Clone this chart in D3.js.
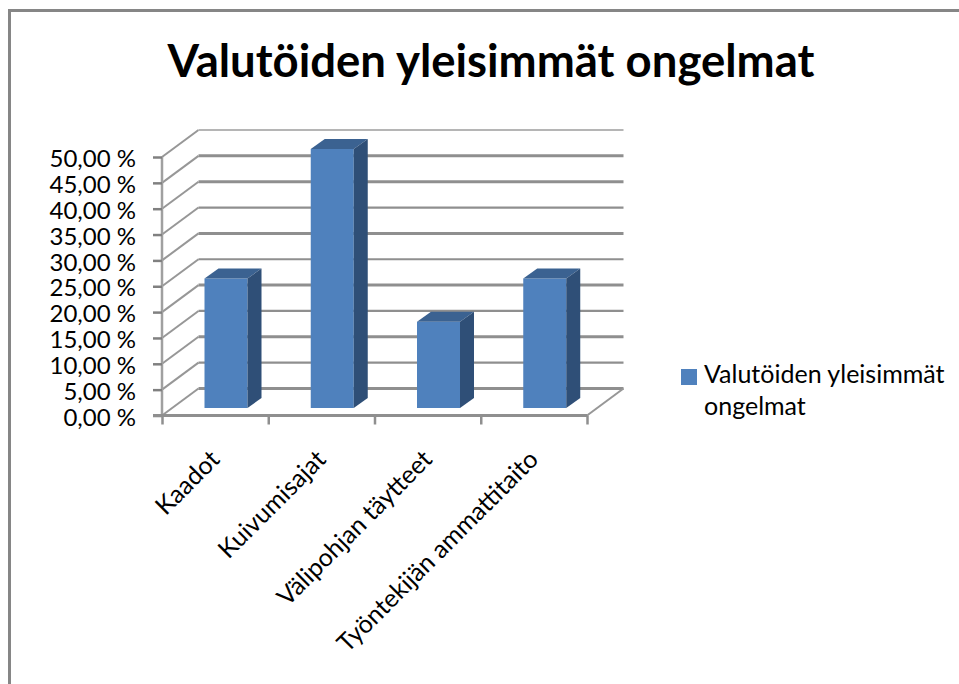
<!DOCTYPE html>
<html><head><meta charset="utf-8">
<script src="https://cdn.jsdelivr.net/npm/d3@7/dist/d3.min.js"></script>
<style>html,body{margin:0;padding:0;background:#fff}svg{display:block}text{font-family:Lato,"Open Sans",sans-serif;fill:#000}</style>
</head><body><svg id="c" width="959" height="684"></svg>
<script>
const titleText = "Valutöiden yleisimmät ongelmat";
const categories = ["Kaadot","Kuivumisajat","Välipohjan täytteet","Työntekijän ammattitaito"];
const seriesValues = [25, 50, 16.67, 25];
const yTicks = [0,5,10,15,20,25,30,35,40,45,50];
const legendLines = ["Valutöiden yleisimmät","ongelmat"];

const svg = d3.select("#c");
// frame
svg.append("path").attr("d","M9.5,684V10.5H959").attr("fill","none").attr("stroke","#868686").attr("stroke-width",3);

const x = d3.scaleBand().domain(categories).range([162,587]).paddingInner(0).paddingOuter(0);
const y = d3.scaleLinear().domain([0,50]).range([415.5,157]);
const depth = {dx:36.5, dy:-27};
const fmt = v => v.toFixed(2).replace(".",",")+" %";
const barW = 43, barOff = 42.5, barBase = 408, barScale = d3.scaleLinear().domain([0,50]).range([408,149]);
const bd = {dx:14, dy:-10};

// back-wall gridlines with side-wall segments
const grid = svg.append("g").attr("fill","none").attr("stroke","#979797");
yTicks.forEach(t=>{
  const fy=y(t), by=fy+depth.dy;
  grid.append("path").attr("d",`M${x.range()[0]},${fy}L${x.range()[0]+depth.dx},${by}`).attr("stroke-width",2);
  grid.append("path").attr("d",`M${x.range()[0]+depth.dx},${by}H${x.range()[1]+depth.dx}`)
    .attr("stroke-width",(t%10===0&&t>0&&t<50)||t===45||t===0?3:2.2)
    .attr("stroke",t===50?"#b5b5b5":"#8f8f8f");
});
// floor right edge
svg.append("path").attr("d",`M${x.range()[1]},${y(0)}L${x.range()[1]+depth.dx},${y(0)+depth.dy}`).attr("fill","none").attr("stroke","#979797").attr("stroke-width",2);

// axes
const gy = svg.append("g").attr("transform","translate(162,0)")
  .call(d3.axisLeft(y).tickValues(yTicks).tickFormat(fmt).tickSize(9).tickPadding(17));
gy.selectAll("text").attr("font-size",24).attr("dy","0.4em").style("font-family","Lato").attr("fill","#000");
gy.select(".domain").attr("stroke","#a0a0a0").attr("stroke-width",2.5).attr("d","M0,157V416");
gy.selectAll(".tick line").attr("stroke","#808080").attr("stroke-width",2.5);

const gx = svg.append("g").attr("transform",`translate(0,${y(0)})`)
  .call(d3.axisBottom(d3.scaleLinear().domain([0,4]).range(x.range())).tickValues([0,1,2,3,4]).tickFormat("").tickSize(9));
gx.select(".domain").attr("stroke","#8f8f8f").attr("stroke-width",3).attr("d",`M153,0H${x.range()[1]}`);
gx.selectAll(".tick line").attr("stroke","#8f8f8f").attr("stroke-width",2.5);

// bars
const bars = svg.append("g").selectAll("g").data(categories).join("g");
const bx = d => x(d)+barOff;
const val = i => barScale(seriesValues[i]);
bars.append("path").attr("fill","#4f81bd")
  .attr("d",(d,i)=>`M${bx(d)},${val(i)}h${barW}V${barBase}h${-barW}Z`);
bars.append("path").attr("fill","#3b6291")
  .attr("d",(d,i)=>`M${bx(d)},${val(i)}l${bd.dx},${bd.dy}h${barW}l${-bd.dx},${-bd.dy}Z`);
bars.append("path").attr("fill","#2f4f77")
  .attr("d",(d,i)=>`M${bx(d)+barW},${val(i)}l${bd.dx},${bd.dy}V${barBase+bd.dy}l${-bd.dx},${-bd.dy}Z`);

// category labels
svg.append("g").selectAll("text").data(categories).join("text")
  .attr("text-anchor","end").attr("font-size",25)
  .attr("transform",d=>`translate(${x(d)+x.bandwidth()/2+6},461) rotate(-45)`)
  .text(d=>d);

// title
svg.append("text").attr("x",491).attr("y",77).attr("text-anchor","middle")
  .attr("font-size",45.5).attr("font-weight",700).text(titleText);

// legend
svg.append("rect").attr("x",681).attr("y",369).attr("width",16).attr("height",16).attr("fill","#4f81bd");
svg.append("g").selectAll("text").data(legendLines).join("text")
  .attr("x",704).attr("y",(d,i)=>383+i*32).attr("font-size",25).text(d=>d);
</script></body></html>
